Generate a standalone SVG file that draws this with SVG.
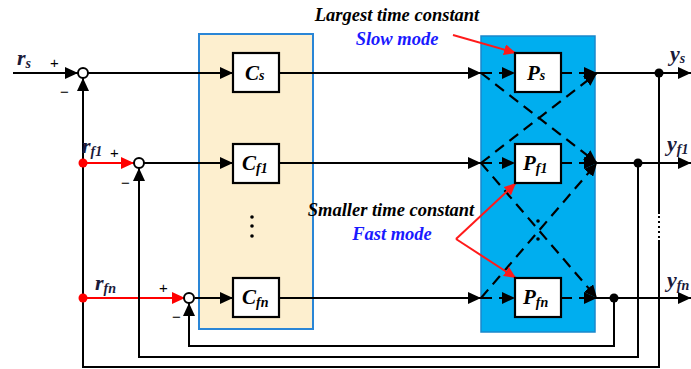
<svg xmlns="http://www.w3.org/2000/svg" width="691" height="369" viewBox="0 0 691 369">
<defs>
<marker id="ah" markerUnits="userSpaceOnUse" markerWidth="14" markerHeight="12" refX="13" refY="6" orient="auto"><path d="M0,0 L13,6 L0,12 Z" fill="#000"/></marker>
<marker id="ahr" markerUnits="userSpaceOnUse" markerWidth="14" markerHeight="12" refX="13" refY="6" orient="auto"><path d="M0,0 L13,6 L0,12 Z" fill="#ff0000"/></marker>
<marker id="ahs" markerUnits="userSpaceOnUse" markerWidth="13" markerHeight="11" refX="12" refY="5.5" orient="auto"><path d="M0,0 L12,5.5 L0,11 Z" fill="#ff1a1a"/></marker>
</defs>
<style>
.w{stroke:#000;stroke-width:2;fill:none}
.d{stroke:#000;stroke-width:2.2;fill:none;stroke-dasharray:11,7}
.r{stroke:#ff0000;stroke-width:2.2;fill:none}
.ra{stroke:#ff1a1a;stroke-width:2;fill:none}
.box{fill:#fff;stroke:#000;stroke-width:2.2}
.sum{fill:#fff;stroke:#000;stroke-width:2}
.lbl{font-family:"Liberation Serif",serif;font-style:italic;font-weight:bold;font-size:21px;fill:#000}
.sig{font-family:"Liberation Serif",serif;font-style:italic;font-weight:bold;font-size:22px;fill:#1a1a3a}
.sub{font-size:14px}
.pm{font-family:"Liberation Sans",sans-serif;font-size:15px;fill:#000}
.note{font-family:"Liberation Serif",serif;font-style:italic;font-weight:bold;font-size:18.5px;fill:#000;text-anchor:middle}
.mode{font-family:"Liberation Serif",serif;font-style:italic;font-weight:bold;font-size:18.5px;fill:#1a1aff;text-anchor:middle}
</style>
<rect width="691" height="369" fill="#fff"/>
<g id="controllers-panel"><rect x="199" y="34" width="114" height="295" fill="#fdefcf" stroke="#2a86d6" stroke-width="2"/></g>
<g id="plants-panel"><rect x="481" y="36" width="114" height="296" fill="#00aeef" stroke="#1a88cc" stroke-width="1.5"/></g>
<g id="connectors">
<line class="w" x1="13" y1="73" x2="78" y2="73" marker-end="url(#ah)"/>
<line class="r" x1="83" y1="163" x2="134" y2="163" marker-end="url(#ahr)"/>
<line class="r" x1="83" y1="298" x2="185" y2="298" marker-end="url(#ahr)"/>
<line class="w" x1="88" y1="73" x2="233" y2="73" marker-end="url(#ah)"/>
<line class="w" x1="144" y1="163" x2="233" y2="163" marker-end="url(#ah)"/>
<line class="w" x1="195" y1="298" x2="233" y2="298" marker-end="url(#ah)"/>
<line class="w" x1="279" y1="73" x2="481" y2="73" marker-end="url(#ah)"/>
<line class="w" x1="279" y1="163" x2="481" y2="163" marker-end="url(#ah)"/>
<line class="w" x1="279" y1="298" x2="481" y2="298" marker-end="url(#ah)"/>
<line class="d" x1="481" y1="73" x2="515" y2="73" marker-end="url(#ah)"/>
<line class="d" x1="481" y1="163" x2="515" y2="163" marker-end="url(#ah)"/>
<line class="d" x1="481" y1="298" x2="515" y2="298" marker-end="url(#ah)"/>
<line class="d" x1="561" y1="73" x2="597" y2="73" marker-end="url(#ah)"/>
<line class="d" x1="561" y1="163" x2="597" y2="163" marker-end="url(#ah)"/>
<line class="d" x1="561" y1="298" x2="597" y2="298" marker-end="url(#ah)"/>
<line class="d" x1="481" y1="73" x2="597" y2="163" marker-end="url(#ah)"/>
<line class="d" x1="481" y1="163" x2="597" y2="73" marker-end="url(#ah)"/>
<line class="d" x1="481" y1="163" x2="597" y2="298" marker-end="url(#ah)"/>
<line class="d" x1="481" y1="298" x2="597" y2="163" marker-end="url(#ah)"/>
<line class="w" x1="595" y1="73" x2="691" y2="73" marker-end="url(#ah)"/>
<line class="w" x1="595" y1="163" x2="691" y2="163" marker-end="url(#ah)"/>
<line class="w" x1="595" y1="298" x2="691" y2="298" marker-end="url(#ah)"/>
<polyline class="w" points="659,73 659,214"/>
<line x1="659" y1="216" x2="659" y2="238" stroke="#000" stroke-width="2" stroke-dasharray="2,3"/>
<polyline class="w" points="659,240 659,367 83,367 83,78" marker-end="url(#ah)"/>
<polyline class="w" points="638,163 638,357 139,357 139,168" marker-end="url(#ah)"/>
<polyline class="w" points="614,298 614,346 189,346 189,303" marker-end="url(#ah)"/>
<line class="ra" x1="453" y1="35" x2="516" y2="53" marker-end="url(#ahs)"/>
<line class="ra" x1="456" y1="239" x2="516" y2="183" marker-end="url(#ahs)"/>
<line class="ra" x1="456" y1="239" x2="516" y2="278" marker-end="url(#ahs)"/>
</g>
<g id="taps">
<circle cx="659" cy="73" r="4.5" fill="#000"/>
<circle cx="638" cy="163" r="4.5" fill="#000"/>
<circle cx="614" cy="298" r="4.5" fill="#000"/>
<circle cx="83" cy="163" r="4.5" fill="#ff0000"/>
<circle cx="83" cy="298" r="4.5" fill="#ff0000"/>
<circle cx="538" cy="221" r="1.8" fill="#000"/>
<circle cx="538" cy="239" r="1.8" fill="#000"/>
<circle cx="252" cy="217" r="1.8" fill="#000"/>
<circle cx="252" cy="226" r="1.8" fill="#000"/>
<circle cx="252" cy="236" r="1.8" fill="#000"/>
</g>
<g id="sum-s"><circle class="sum" cx="83" cy="73" r="5"/><text class="pm" x="50" y="68">+</text><text class="pm" x="60" y="97">−</text></g>
<g id="sum-f1"><circle class="sum" cx="139" cy="163" r="5"/><text class="pm" x="110" y="158">+</text><text class="pm" x="121" y="188">−</text></g>
<g id="sum-fn"><circle class="sum" cx="189" cy="298" r="5"/><text class="pm" x="159" y="293">+</text><text class="pm" x="172" y="322">−</text></g>
<g id="C-s"><rect class="box" x="233" y="53" width="46" height="39"/><text class="lbl" x="245" y="80">C<tspan class="sub">s</tspan></text></g>
<g id="C-f1"><rect class="box" x="233" y="144" width="46" height="39"/><text class="lbl" x="242" y="170">C<tspan class="sub" dy="3">f1</tspan></text></g>
<g id="C-fn"><rect class="box" x="233" y="278" width="46" height="39"/><text class="lbl" x="242" y="304">C<tspan class="sub" dy="3">fn</tspan></text></g>
<g id="P-s"><rect class="box" x="515" y="53" width="46" height="39"/><text class="lbl" x="527" y="80">P<tspan class="sub">s</tspan></text></g>
<g id="P-f1"><rect class="box" x="515" y="144" width="46" height="39"/><text class="lbl" x="523" y="170">P<tspan class="sub" dy="3">f1</tspan></text></g>
<g id="P-fn"><rect class="box" x="515" y="278" width="46" height="39"/><text class="lbl" x="523" y="304">P<tspan class="sub" dy="3">fn</tspan></text></g>
<g id="labels">
<text class="sig" x="17" y="65">r<tspan class="sub" dy="3">s</tspan></text>
<text class="sig" x="82" y="153">r<tspan class="sub" dy="3">f1</tspan></text>
<text class="sig" x="95" y="290">r<tspan class="sub" dy="3">fn</tspan></text>
<text class="sig" x="670" y="61">y<tspan class="sub" dy="2">s</tspan></text>
<text class="sig" x="667" y="151">y<tspan class="sub" dy="3">f1</tspan></text>
<text class="sig" x="667" y="287">y<tspan class="sub" dy="3">fn</tspan></text>
<text class="note" x="397" y="21">Largest time constant</text>
<text class="mode" x="397" y="45">Slow mode</text>
<text class="note" x="391" y="216">Smaller time constant</text>
<text class="mode" x="392" y="240">Fast mode</text>
</g>
</svg>
